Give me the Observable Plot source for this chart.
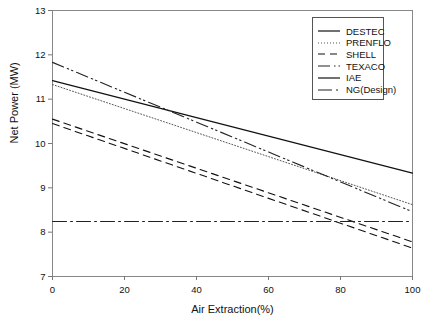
<!DOCTYPE html>
<html>
<head>
<meta charset="utf-8">
<script src="https://cdn.jsdelivr.net/npm/d3@7"></script>
<script src="https://cdn.jsdelivr.net/npm/@observablehq/plot@0.6"></script>
<style>
body { margin: 0; background: #fff; font-family: "Liberation Sans", Arial, sans-serif; }
#wrap { position: relative; width: 421px; height: 323px; }
#legend { position: absolute; left: 312px; top: 17px; width: 72px; height: 83px; border: 1px solid #555; background: #fff; box-sizing: border-box; font-size: 9.5px; color: #111; }
#legend .row { position: absolute; left: 5px; height: 12px; display: flex; align-items: center; white-space: nowrap; }
#legend svg { margin-right: 6px; }
</style>
</head>
<body>
<div id="wrap"><div id="legend"></div></div>
<script>
const series = ["DESTEC", "PRENFLO", "SHELL", "TEXACO", "IAE", "NG(Design)"];
const airExtraction = [0, 100];
const destec = [11.42, 9.33];
const prenflo = [11.33, 8.62];
const shell = [10.55, 7.78];
const texaco = [11.83, 8.46];
const iae = [10.45, 7.64];
const ngDesign = [8.24, 8.24];
const xTicks = [0, 20, 40, 60, 80, 100];
const yTicks = [7, 8, 9, 10, 11, 12, 13];

const values = [destec, prenflo, shell, texaco, iae, ngDesign];
const styles = {
  "DESTEC": {stroke: "#111", dash: null, width: 1.2},
  "PRENFLO": {stroke: "#555", dash: "1,2", width: 1},
  "SHELL": {stroke: "#111", dash: "7,5", width: 1.1},
  "TEXACO": {stroke: "#222", dash: "12,4,1.5,3,1.5,4", width: 1.1},
  "IAE": {stroke: "#111", dash: "7,5", width: 1.1},
  "NG(Design)": {stroke: "#222", dash: "14,4,2,4", width: 1.1}
};
const legendStyles = {...styles, "IAE": {stroke: "#111", dash: null, width: 1.2}};

const data = [];
series.forEach((s, i) => airExtraction.forEach((x, j) => data.push({series: s, x, y: values[i][j]})));

const marks = [
  Plot.frame({stroke: "#888", strokeWidth: 1}),
  Plot.axisX({ticks: xTicks, tickFormat: d => String(d), tickSize: 4, tickPadding: 6, fontSize: 9.5, stroke: "#777", label: null}),
  Plot.axisY({ticks: yTicks, tickFormat: d => String(d), tickSize: 4, tickPadding: 3, fontSize: 9.5, stroke: "#777", label: null}),
  Plot.text(["Air Extraction(%)"], {frameAnchor: "bottom", dy: 36, fontSize: 11, fill: "#111"}),
  Plot.text(["Net Power (MW)"], {frameAnchor: "left", dx: -38, rotate: -90, fontSize: 11, fill: "#111"})
];
series.forEach(s => {
  const st = styles[s];
  marks.push(Plot.line(data.filter(d => d.series === s), {x: "x", y: "y", stroke: st.stroke, strokeWidth: st.width, strokeDasharray: st.dash}));
});

const chart = Plot.plot({
  width: 421, height: 323,
  marginLeft: 52, marginRight: 9, marginTop: 10, marginBottom: 47,
  style: {fontFamily: "'Liberation Sans', Arial, sans-serif", color: "#111", background: "#fff"},
  x: {domain: [0, 100]},
  y: {domain: [7, 13]},
  marks
});
document.getElementById("wrap").prepend(chart);

const legend = document.getElementById("legend");
series.forEach((s, i) => {
  const st = legendStyles[s];
  const row = document.createElement("div");
  row.className = "row";
  row.style.top = (13 + i * 11.7 - 6) + "px";
  row.innerHTML = `<svg width="22" height="6"><line x1="0" y1="3" x2="22" y2="3" stroke="${st.stroke}" stroke-width="${st.width}" ${st.dash ? `stroke-dasharray="${st.dash}"` : ""}/></svg><span>${s}</span>`;
  legend.appendChild(row);
});
</script>
</body>
</html>
